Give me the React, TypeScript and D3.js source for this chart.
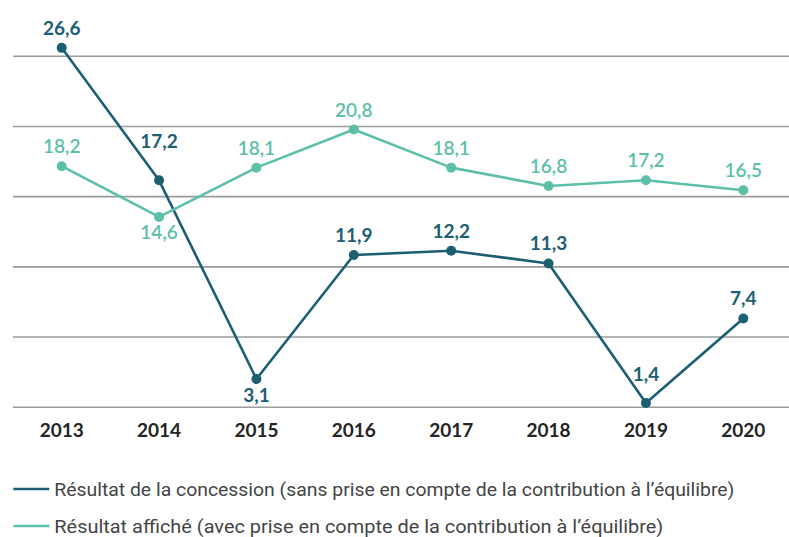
import React from "react";
import * as d3 from "d3";

const years = ["2013", "2014", "2015", "2016", "2017", "2018", "2019", "2020"];
const concession = [26.6, 17.2, 3.1, 11.9, 12.2, 11.3, 1.4, 7.4];
const affiche = [18.2, 14.6, 18.1, 20.8, 18.1, 16.8, 17.2, 16.5];
const seriesNames = [
  "Résultat de la concession (sans prise en compte de la contribution à l’équilibre)",
  "Résultat affiché (avec prise en compte de la contribution à l’équilibre)",
];
const yDomain = [1.1, 26.0];
const gridCount = 6;

const W = 789;
const H = 537;
const DARK = "#1c5e72";
const LIGHT = "#5dbfa8";

const fmt = (v: number) => v.toFixed(1).replace(".", ",");

// label placement (styling only): offset of the label baseline above the point
const darkLift: Record<number, number> = { 1: 32, 2: -22.5, 6: 22 };
const lightLift: Record<number, number> = { 1: -22.5 };

export default function App() {
  const x = d3.scalePoint<string>().domain(years).range([61.7, 743.3]);
  const y = d3.scaleLinear().domain(yDomain).range([407.2, 56.3]);
  const gridVals = d3.range(gridCount).map(
    (i) => yDomain[0] + (i * (yDomain[1] - yDomain[0])) / (gridCount - 1)
  );
  const line = d3
    .line<number>()
    .x((_, i) => x(years[i]) as number)
    .y((d) => y(d));

  const series = [
    { values: concession, color: DARK, weight: 700, lift: darkLift },
    { values: affiche, color: LIGHT, weight: 600, lift: lightLift },
  ];

  return (
    <svg
      width={W}
      height={H}
      style={{ position: "absolute", left: 0, top: 0, background: "#fff" }}
    >
      {gridVals.map((g, i) => (
        <line
          key={i}
          x1={13}
          x2={W}
          y1={y(g)}
          y2={y(g)}
          stroke="#9b9b9b"
          strokeWidth={1.6}
        />
      ))}
      {years.map((yr) => (
        <text
          key={yr}
          x={x(yr)}
          y={436.5}
          textAnchor="middle"
          fontFamily="Lato, 'Open Sans', sans-serif"
          fontWeight={700}
          fontSize={19}
          fill="#242424"
        >
          {yr}
        </text>
      ))}
      {series.map((s, si) => (
        <g key={si}>
          <path
            d={line(s.values) || ""}
            fill="none"
            stroke={s.color}
            strokeWidth={2.6}
            strokeLinejoin="round"
          />
          {s.values.map((v, i) => (
            <circle key={i} cx={x(years[i])} cy={y(v)} r={5} fill={s.color} />
          ))}
          {s.values.map((v, i) => (
            <text
              key={"t" + i}
              x={x(years[i])}
              y={y(v) - (s.lift[i] ?? 13)}
              textAnchor="middle"
              fontFamily="Lato, 'Open Sans', sans-serif"
              fontWeight={s.weight}
              fontSize={19}
              fill={s.color}
            >
              {fmt(v)}
            </text>
          ))}
        </g>
      ))}
      {seriesNames.map((name, i) => {
        const ly = [489, 526][i];
        return (
          <g key={name}>
            <line
              x1={13.3}
              x2={49.3}
              y1={ly}
              y2={ly}
              stroke={[DARK, LIGHT][i]}
              strokeWidth={2.6}
            />
            <text
              x={54.3}
              y={ly + 6.7}
              fontFamily="Roboto, sans-serif"
              fontWeight={400}
              fontSize={18.5}
              fill="#444"
              textLength={[680, 609][i]}
              lengthAdjust="spacingAndGlyphs"
            >
              {name}
            </text>
          </g>
        );
      })}
    </svg>
  );
}
